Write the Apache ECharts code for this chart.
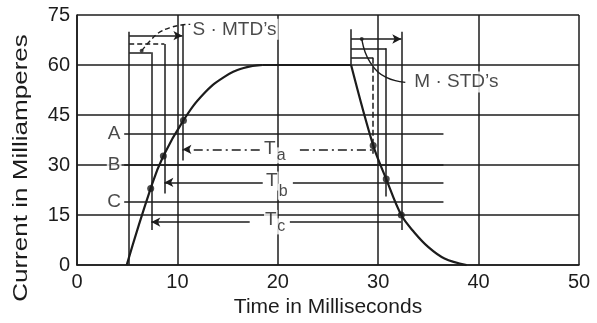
<!DOCTYPE html>
<html><head><meta charset="utf-8">
<script src="https://cdn.jsdelivr.net/npm/echarts@6/dist/echarts.min.js"></script>
<style>html,body{margin:0;padding:0;background:#fff}#c{width:597px;height:323px}</style>
</head><body><div id="c"></div>
<script>
// ---- axis ticks ----
const xTicks = [0, 10, 20, 30, 40, 50];
const yTicks = [0, 15, 30, 45, 60, 75];

// ---- current waveform (ms, mA) ----
const riseCurve = [[4.95,0],[7.34,23],[8.6,32.7],[10.6,43.4],[12.6,51.3],[14.6,56.3],[16.6,59.1],[18.5,60]];
const plateau = [[18.5,60],[27.3,60]];
const fallCurve = [[27.3,60],[29.5,35.9],[30.8,25.8],[32.3,15],[33.6,9.8],[35.0,5.4],[36.6,2.0],[38.8,0]];

// ---- operate / release points ----
const riseDots = [[7.34,23],[8.6,32.7],[10.6,43.4]];
const fallDots = [[29.5,35.9],[30.8,25.8],[32.3,15]];

// ---- current levels A, B, C ----
const levelNames = ['A','B','C'];
const levelValues = [39.25, 30, 19.0];
const levelFrom = [4.7, 4.7, 4.7];
const levelTo = [36.5, 36.5, 36.5];
const levelLabelX = [3.7, 3.7, 3.7];

// ---- timing intervals Ta, Tb, Tc ----
const tNames = ['a','b','c'];
const tLevels = [34.7, 24.8, 12.9];
const tStart = [10.5, 8.7, 7.4];
const tEnd = [29.5, 36.5, 32.3];
const tGapLeft = [18.2, 18.5, 17.2];
const tGapRight = [22.2, 21.5, 21.2];
const tLabelX = [19.2, 19.4, 19.3];
const tLabelY = [34.9, 25.2, 13.7];
const tSubX = [20.35, 20.55, 20.35];
const tSubY = [32.9, 22.0, 11.6];

// ---- S-MTD bracket set ----
const sBase = 5.2, sBaseTop = 70;
const sTimes = [7.4, 8.7, 10.5];
const sBracket = [63.8, 66.3, 68.8];
const sDropEnd = [10.5, 21.5, 31.4];
const sTop = [63.8, 66.3, 72];
const sLeader = [[6.44,64.3],[7.27,67.2],[8.1,69.6],[9.26,71.2],[10.4,72],[11.3,72.2]];
const sLabel = {text:'S · MTD’s', x:11.3, y:70.7};

// ---- M-STD bracket set ----
const mBase = 27.3, mBaseTop = 70.7;
const mTimes = [29.5, 30.8, 32.3];
const mBracket = [62.3, 65.0, 67.8];
const mDropEnd = [33.4, 20.6, 10.5];
const mTop = [62.3, 65.0, 70];
const mLeader = [[28.36,67.8],[28.7,63.8],[29.2,60.8],[30.0,57.8],[30.8,56.3],[31.7,55.3],[32.7,54.8]];
const mLabel = {text:'M · STD’s', x:33.4, y:54.9};

const INK = '#1c1c1c';
const FONT = '"Liberation Sans", Arial, Helvetica, sans-serif';

function seg(x1, y1, x2, y2, style, endSym, startSym) {
  return [
    {coord:[x1,y1], symbol:startSym||'none', symbolSize:[7,9], lineStyle:Object.assign({color:INK,width:1.5,type:'solid'}, style||{})},
    {coord:[x2,y2], symbol:endSym||'none', symbolSize:[7,9]}
  ];
}

const marks = [];
levelValues.forEach((v,i)=>marks.push(seg(levelFrom[i], v, levelTo[i], v)));
tLevels.forEach((v,i)=>{
  const st = i===0 ? {type:[9,4,2,4]} : {};
  marks.push(seg(tGapLeft[i], v, tStart[i], v, st, 'arrow'));
  marks.push(seg(tGapRight[i], v, tEnd[i], v, st));
});
marks.push(seg(sBase, 0, sBase, sBaseTop));
sTimes.forEach((t,i)=>{
  marks.push(seg(t, sDropEnd[i], t, sTop[i]));
  marks.push(seg(sBase, sBracket[i], t, sBracket[i], i===1?{type:[5,3]}:{}, i===2?'arrow':'none'));
});
marks.push(seg(mBase, 60, mBase, mBaseTop));
mTimes.forEach((t,i)=>{
  marks.push(seg(t, mDropEnd[i], t, mTop[i], i===0?{type:[6,3]}:{}));
  marks.push(seg(mBase, mBracket[i], t, mBracket[i], {}, i===2?'arrow':'none'));
});

const textItems = [];
levelNames.forEach((n,i)=>textItems.push({value:[levelLabelX[i], levelValues[i]], name:n, fs:19}));
tNames.forEach((n,i)=>{
  textItems.push({value:[tLabelX[i], tLabelY[i]], name:'T', fs:19});
  textItems.push({value:[tSubX[i], tSubY[i]], name:n, fs:16});
});

const curveStyle = {color:INK, width:2.2};
const chart = echarts.init(document.getElementById('c'), null, {renderer:'canvas'});
chart.setOption({
  animation:false,
  backgroundColor:'#fff',
  grid:{left:77, right:18, top:15, bottom:56},
  xAxis:{
    type:'value', min:xTicks[0], max:xTicks[xTicks.length-1], interval:10,
    name:'Time in Milliseconds', nameLocation:'middle', nameGap:30,
    nameTextStyle:{fontFamily:FONT, fontSize:21, color:INK},
    axisLine:{show:true, lineStyle:{color:INK, width:1.6}},
    axisTick:{show:false},
    axisLabel:{fontFamily:FONT, fontSize:20, color:INK, margin:7},
    splitLine:{show:true, lineStyle:{color:INK, width:1.5}}
  },
  yAxis:{
    type:'value', min:yTicks[0], max:yTicks[yTicks.length-1], interval:15,
    axisLine:{show:true, lineStyle:{color:INK, width:1.6}},
    axisTick:{show:false},
    axisLabel:{fontFamily:FONT, fontSize:20, color:INK, margin:7},
    splitLine:{show:true, lineStyle:{color:INK, width:1.5}}
  },
  graphic:[{
    type:'text', x:21, y:168, rotation:Math.PI/2, scaleX:1.24,
    style:{text:'Current in Milliamperes', font:'21px ' + FONT, fill:INK, align:'center', verticalAlign:'middle'}
  }],
  series:[
    {
      type:'line', data:riseCurve, smooth:0.45, symbol:'none', lineStyle:curveStyle, z:3,
      markLine:{silent:true, symbol:'none', label:{show:false}, data:marks, animation:false}
    },
    {type:'line', data:plateau, symbol:'none', lineStyle:curveStyle, z:3},
    {type:'line', data:fallCurve, smooth:0.35, symbol:'none', lineStyle:curveStyle, z:3},
    {type:'line', data:sLeader, smooth:0.4, symbol:'none', lineStyle:{color:INK, width:1.4, type:[5,3]}, z:3},
    {type:'line', data:mLeader, smooth:0.4, symbol:'none', lineStyle:{color:INK, width:1.4}, z:3},
    {type:'scatter', data:riseDots.concat(fallDots), symbolSize:7, itemStyle:{color:INK}, z:4},
    {type:'scatter', data:[sLeader[0], mLeader[0]], symbolSize:4, itemStyle:{color:INK}, z:4},
    {
      type:'scatter', symbolSize:0, z:6,
      data:textItems.map(t=>({value:t.value, name:t.name, label:{fontSize:t.fs}})),
      label:{show:true, position:'inside', formatter:p=>p.name, fontFamily:FONT, color:INK, backgroundColor:'#fff', padding:[0,1]}
    },
    {
      type:'scatter', symbolSize:0, z:6,
      data:[{value:[sLabel.x, sLabel.y], name:sLabel.text},{value:[mLabel.x, mLabel.y], name:mLabel.text}],
      label:{show:true, position:'right', distance:0, formatter:p=>p.name, fontFamily:FONT, fontSize:19, color:INK, backgroundColor:'#fff', padding:[1,2]}
    }
  ]
});
</script></body></html>
